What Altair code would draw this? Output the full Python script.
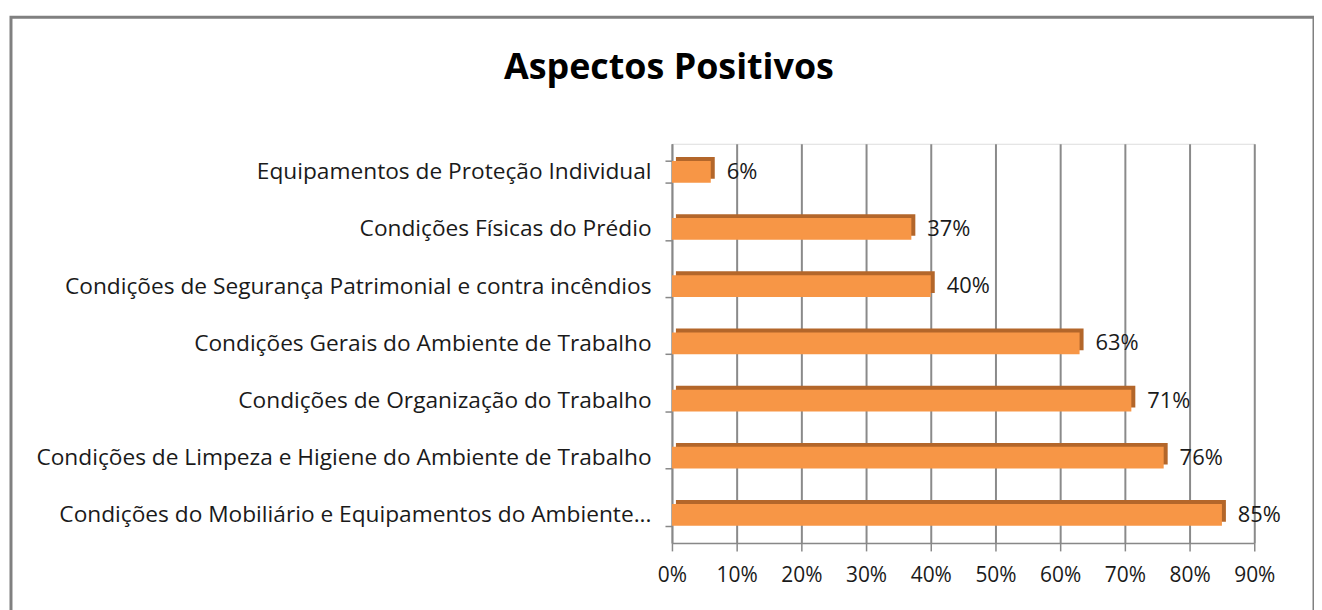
import altair as alt
import pandas as pd

categories = [
    "Equipamentos de Proteção Individual",
    "Condições Físicas do Prédio",
    "Condições de Segurança Patrimonial e contra incêndios",
    "Condições Gerais do Ambiente de Trabalho",
    "Condições de Organização do Trabalho",
    "Condições de Limpeza e Higiene do Ambiente de Trabalho",
    "Condições do Mobiliário e Equipamentos do Ambiente...",
]
values = [0.06, 0.37, 0.40, 0.63, 0.71, 0.76, 0.85]
labels = ["6%", "37%", "40%", "63%", "71%", "76%", "85%"]
title_text = ["Aspectos Positivos"]

df = pd.DataFrame({"cat": categories, "val": values, "lab": labels})

FONT = "Open Sans"

y_enc = alt.Y(
    "cat:N",
    sort=categories,
    title=None,
    scale=alt.Scale(paddingInner=0.62, paddingOuter=0.3),
    axis=alt.Axis(
        labelFont=FONT, labelFontSize=22.8, labelColor="#1a1a1a",
        labelLimit=700, labelPadding=14, tickSize=7, tickColor="#888888",
        tickWidth=1.5, domainColor="#888888", domainWidth=1.5,
        tickBand="extent", grid=False,
    ),
)
x_enc = alt.X(
    "val:Q",
    title=None,
    scale=alt.Scale(domain=[0, 0.9], nice=False),
    axis=alt.Axis(
        format=".0%", values=[i / 10 for i in range(10)],
        labelFont=FONT, labelFontSize=21, labelColor="#1a1a1a",
        labelOverlap=False, labelFlush=False,
        labelPadding=14, tickSize=8, tickColor="#888888", tickWidth=1.5,
        domainColor="#888888", domainWidth=1.5,
        grid=True, gridColor="#8a8a8a", gridWidth=2,
    ),
)

base = alt.Chart(df)

shadow = base.mark_bar(color="#B3662A", xOffset=4, yOffset=-4).encode(y=y_enc, x=x_enc)
bars = base.mark_bar(color="#F79646").encode(y=y_enc, x=x_enc)
text = base.mark_text(
    align="left", baseline="middle", dx=16, font=FONT, fontSize=22, color="#1a1a1a"
).encode(y=y_enc, x=x_enc, text="lab:N")

frame = alt.Chart(pd.DataFrame({"a": [0]})).mark_rect(
    fill=None, stroke="#808080", strokeWidth=3
).encode(
    x=alt.value(-664), x2=alt.value(645), y=alt.value(-127), y2=alt.value(480)
)

title = alt.Chart(pd.DataFrame({"t": title_text})).mark_text(
    font=FONT, fontSize=36, fontWeight="bold", color="#000000",
    align="center", baseline="alphabetic",
).encode(x=alt.value(-3), y=alt.value(-65), text="t:N")

chart = (
    alt.layer(frame, shadow, bars, text, title)
    .properties(
        width=585,
        height=401,
        autosize=alt.AutoSizeParams(type="none"),
        padding={"left": 667, "top": 135, "right": 60, "bottom": 70},
    )
    .configure_view(stroke=None)
    .configure(background="white")
)

chart.save("out.html", embed_options={"renderer": "svg", "actions": False})
